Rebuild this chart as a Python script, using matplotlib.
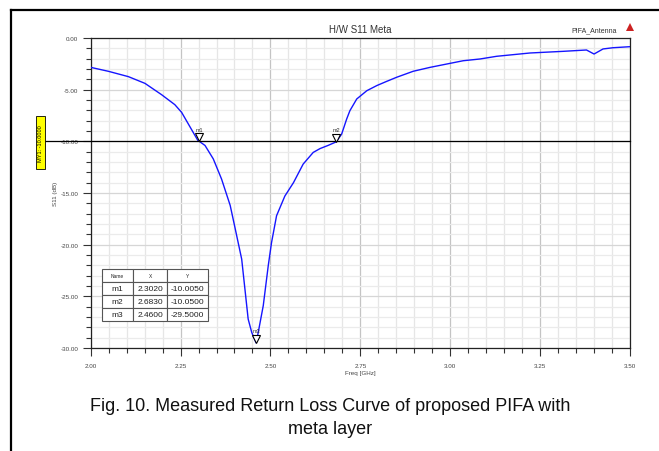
import numpy as np
import matplotlib
matplotlib.use("Agg")
import matplotlib.pyplot as plt
from matplotlib.lines import Line2D
from matplotlib.patches import Rectangle
import matplotlib.transforms as mtransforms

plt.rcParams['font.family'] = ['Liberation Sans', 'DejaVu Sans']

# measured S11 curve
freq = [2.000, 2.049, 2.105, 2.151, 2.197, 2.234, 2.253, 2.299, 2.302, 2.318,
        2.341, 2.364, 2.388, 2.401, 2.420, 2.429, 2.438, 2.448, 2.460, 2.466,
        2.480, 2.494, 2.503, 2.517, 2.540, 2.564, 2.591, 2.619, 2.638, 2.660,
        2.683, 2.698, 2.712, 2.721, 2.740, 2.768, 2.796, 2.823, 2.851, 2.897,
        2.944, 2.990, 3.036, 3.083, 3.129, 3.222, 3.314, 3.379, 3.400, 3.425,
        3.453, 3.500]
s11 = [-2.84, -3.22, -3.74, -4.39, -5.48, -6.45, -7.20, -9.97, -10.00, -10.40,
       -11.70, -13.65, -16.20, -18.30, -21.40, -24.30, -27.20, -28.50, -29.50, -28.50,
       -25.90, -22.00, -19.80, -17.20, -15.30, -14.00, -12.20, -11.07, -10.70, -10.40,
       -10.05, -9.30, -7.84, -7.03, -5.90, -5.10, -4.60, -4.20, -3.80, -3.22,
       -2.84, -2.52, -2.20, -2.03, -1.77, -1.45, -1.29, -1.16, -1.55, -1.06,
       -0.94, -0.84]

marker_names = ["m1", "m2", "m3"]
marker_x = [2.3020, 2.6830, 2.4600]
marker_y = [-10.0050, -10.0500, -29.5000]

xticks = [2.00, 2.25, 2.50, 2.75, 3.00, 3.25, 3.50]
yticks = [0, -5, -10, -15, -20, -25, -30]

fig = plt.figure(figsize=(6.59, 4.52), dpi=100)
ax = fig.add_axes([0.1376, 0.2279, 0.8184, 0.6858])

# grid
for x in np.arange(2.0, 3.5001, 0.05):
    major = abs((x - 2.0) / 0.25 - round((x - 2.0) / 0.25)) < 1e-6
    ax.axvline(x, color='#c4c4c4' if major else '#e6e6e6', lw=0.9, zorder=0)
for y in range(-30, 1):
    ax.axhline(y, color='#d6d6d6' if y % 5 == 0 else '#ebebeb', lw=0.9, zorder=0)

ax.plot(freq, s11, color='#1515ff', lw=1.0, zorder=3)

# marker line MY1 at -10 dB
trans = mtransforms.blended_transform_factory(ax.transAxes, ax.transData)
ax.plot([-0.085, 1.0], [-10, -10], color='black', lw=0.9, transform=trans,
        clip_on=False, zorder=4)
fig.patches.append(Rectangle((36 / 659, 1 - 170 / 452), 9 / 659, 53 / 452,
                             transform=fig.transFigure, facecolor='#ffff00',
                             edgecolor='black', lw=0.6))
fig.text(40.5 / 659, 1 - 143.5 / 452, "MY1: -10.0000", rotation=90, fontsize=4,
         ha='center', va='center')

# markers m1..m3 (tip of triangle on the point)
off = mtransforms.offset_copy(ax.transData, fig=fig, x=0, y=3, units='points')
off2 = mtransforms.offset_copy(ax.transData, fig=fig, x=0, y=7, units='points')
for name, mx, my in zip(marker_names, marker_x, marker_y):
    ax.plot(mx, my, marker='v', ms=6, mfc='white', mec='black', mew=0.8,
            transform=off, zorder=5, clip_on=False)
    ax.text(mx, my, name, transform=off2, fontsize=4, ha='center', va='bottom',
            color='#333333', zorder=6)

ax.set_xlim(2.0, 3.5)
ax.set_ylim(-30, 0)
ax.set_xticks(xticks)
ax.set_xticklabels(["%.2f" % v for v in xticks])
ax.set_xticks(np.arange(2.0, 3.5001, 0.05), minor=True)
ax.set_yticks(yticks)
ax.set_yticklabels(["%.2f" % v for v in yticks])
ax.set_yticks(range(-30, 1), minor=True)
ax.tick_params(axis='both', which='major', labelsize=4.5, labelcolor='#444444',
               length=6, width=0.8, color='#333333', pad=3)
ax.tick_params(axis='both', which='minor', length=3.5, width=0.8, color='#333333')
ax.tick_params(axis='x', which='major', pad=5)
for s in ax.spines.values():
    s.set_color('#222222')
    s.set_linewidth(0.9)

ax.set_xlabel("Freq [GHz]", fontsize=4.5, color='#444444', labelpad=1)
ax.set_ylabel("S11 (dB)", fontsize=4.5, color='#444444')
ax.yaxis.set_label_coords(-0.06, 0.5)
ax.set_title("H/W S11 Meta", fontsize=7, color='#333333', pad=4)

fig.text(617 / 659, 1 - 31 / 452, "PIFA_Antenna", fontsize=5, ha='right',
         va='center', color='#333333')
fig.patches.append(plt.Polygon([[626 / 659, 1 - 32 / 452], [634 / 659, 1 - 32 / 452],
                                [630 / 659, 1 - 24 / 452]], closed=True,
                               transform=fig.transFigure, facecolor='#cc2222',
                               edgecolor='none'))

# marker table
cells = [[n, "%.4f" % x, "%.4f" % y] for n, x, y in zip(marker_names, marker_x, marker_y)]
tab = ax.table(cellText=cells, colLabels=["Name", "X", "Y"], cellLoc='center',
               bbox=[0.0204, 0.088, 0.1977, 0.1668], colWidths=[0.3, 0.32, 0.39])
tab.auto_set_font_size(False)
for (r, c), cell in tab.get_celld().items():
    cell.set_edgecolor('#555555')
    cell.set_linewidth(0.8)
    cell.set_facecolor('white')
    cell.get_text().set_fontsize(3.5 if r == 0 else 6)
    cell.get_text().set_color('#222222')
tab.set_zorder(7)

# page border and caption
fig.add_artist(Line2D([11 / 659, 11 / 659], [0, 1 - 11 / 452], color='black', lw=1.6,
                      transform=fig.transFigure))
fig.add_artist(Line2D([11 / 659, 1.0], [1 - 11 / 452, 1 - 11 / 452], color='black',
                      lw=1.6, transform=fig.transFigure))
fig.text(330 / 659, 1 - 407 / 452, "Fig. 10. Measured Return Loss Curve of proposed PIFA with",
         fontsize=13, ha='center', va='center', color='#111111')
fig.text(330 / 659, 1 - 430 / 452, "meta layer", fontsize=13, ha='center', va='center',
         color='#111111')

fig.savefig("out.png", dpi=100)
